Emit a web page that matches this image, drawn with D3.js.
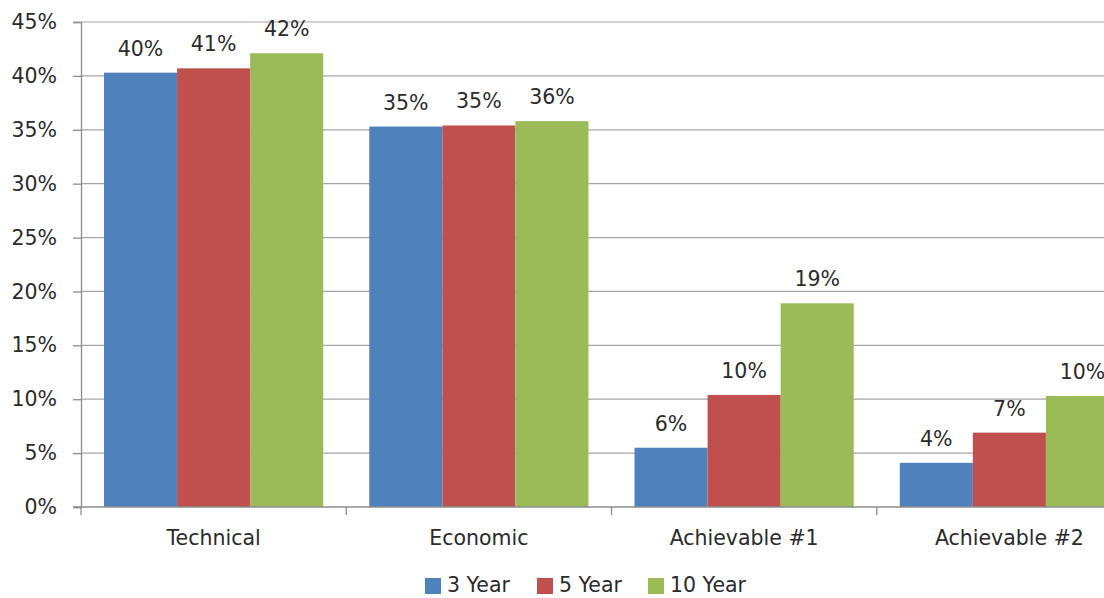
<!DOCTYPE html>
<html>
<head>
<meta charset="utf-8">
<script src="https://cdn.jsdelivr.net/npm/d3@7"></script>
<style>
  html, body { margin: 0; padding: 0; background: #fff; overflow: hidden; }
  svg { display: block; font-family: "DejaVu Sans", Verdana, sans-serif; }
</style>
</head>
<body>
<svg id="chart" width="1104" height="598"></svg>
<script>
// Share of potential by scenario and time horizon
const categories = ["Technical", "Economic", "Achievable #1", "Achievable #2"];
const seriesNames = ["3 Year", "5 Year", "10 Year"];
const year3 = [0.403, 0.353, 0.055, 0.041];
const year5 = [0.407, 0.354, 0.104, 0.069];
const year10 = [0.421, 0.358, 0.189, 0.103];
const yTicks = [0, 0.05, 0.10, 0.15, 0.20, 0.25, 0.30, 0.35, 0.40, 0.45];
const colors = ["#4F81BD", "#C0504D", "#9BBB59"];

const seriesValues = [year3, year5, year10];
const rows = categories.map((c, i) => ({
  category: c,
  values: seriesNames.map((s, j) => ({ series: s, value: seriesValues[j][i] }))
}));

const svg = d3.select("#chart");
const plotLeft = 81, plotTop = 22, plotBottom = 507, plotRight = 1142;
const fontSize = 20.5;
const textColor = "#2b2b2b";

const x0 = d3.scaleBand().domain(categories).range([plotLeft, plotRight]).paddingInner(0).paddingOuter(0);
const x1 = d3.scaleBand().domain(seriesNames).range([0, x0.bandwidth()]).paddingInner(0).paddingOuter(0.315);
const y = d3.scaleLinear().domain([0, 0.45]).range([plotBottom, plotTop]);
const pct = d3.format(".0%");

// horizontal gridlines
svg.append("g")
  .selectAll("line")
  .data(yTicks.filter(t => t > 0))
  .join("line")
  .attr("x1", plotLeft).attr("x2", plotRight)
  .attr("y1", d => y(d)).attr("y2", d => y(d))
  .attr("stroke", "#a6a6a6").attr("stroke-width", 1.2);

// bars
const groups = svg.append("g")
  .selectAll("g")
  .data(rows)
  .join("g")
  .attr("transform", d => `translate(${x0(d.category)},0)`);

groups.selectAll("rect")
  .data(d => d.values)
  .join("rect")
  .attr("x", d => x1(d.series))
  .attr("width", x1.bandwidth())
  .attr("y", d => y(d.value))
  .attr("height", d => plotBottom - y(d.value))
  .attr("fill", (d, i) => colors[i]);

groups.selectAll("text")
  .data(d => d.values)
  .join("text")
  .attr("x", d => x1(d.series) + x1.bandwidth() / 2)
  .attr("y", d => y(d.value) - 17)
  .attr("text-anchor", "middle")
  .attr("font-size", fontSize)
  .attr("fill", textColor)
  .text(d => pct(d.value));

// y axis
const yAxis = svg.append("g")
  .attr("transform", `translate(${plotLeft},0)`)
  .call(d3.axisLeft(y).tickValues(yTicks).tickFormat(pct).tickSize(8).tickPadding(16));
yAxis.select(".domain").attr("stroke", "#8c8c8c").attr("stroke-width", 1.3);
yAxis.selectAll(".tick line").attr("stroke", "#8c8c8c").attr("stroke-width", 1.3);
yAxis.selectAll(".tick text")
  .attr("font-size", fontSize).attr("fill", textColor)
  .attr("font-family", "DejaVu Sans, Verdana, sans-serif");

// x axis baseline and boundary ticks
const xg = svg.append("g");
xg.append("line")
  .attr("x1", plotLeft - 8).attr("x2", plotRight)
  .attr("y1", plotBottom).attr("y2", plotBottom)
  .attr("stroke", "#8c8c8c").attr("stroke-width", 1.3);
const boundaries = categories.map(c => x0(c)).concat([x0(categories[categories.length - 1]) + x0.bandwidth()]);
xg.selectAll("line.b")
  .data(boundaries)
  .join("line")
  .attr("class", "b")
  .attr("x1", d => d).attr("x2", d => d)
  .attr("y1", plotBottom).attr("y2", plotBottom + 8)
  .attr("stroke", "#8c8c8c").attr("stroke-width", 1.3);
xg.selectAll("text")
  .data(categories)
  .join("text")
  .attr("x", d => x0(d) + x0.bandwidth() / 2)
  .attr("y", 545)
  .attr("text-anchor", "middle")
  .attr("font-size", fontSize)
  .attr("fill", textColor)
  .text(d => d);

// legend
const legendX = [425, 537, 648];
const legend = svg.append("g")
  .selectAll("g")
  .data(seriesNames)
  .join("g")
  .attr("transform", (d, i) => `translate(${legendX[i]},578)`);
legend.append("rect")
  .attr("width", 16).attr("height", 16)
  .attr("fill", (d, i) => colors[i]);
legend.append("text")
  .attr("x", 22).attr("y", 14)
  .attr("font-size", fontSize)
  .attr("fill", textColor)
  .text(d => d);
</script>
</body>
</html>
